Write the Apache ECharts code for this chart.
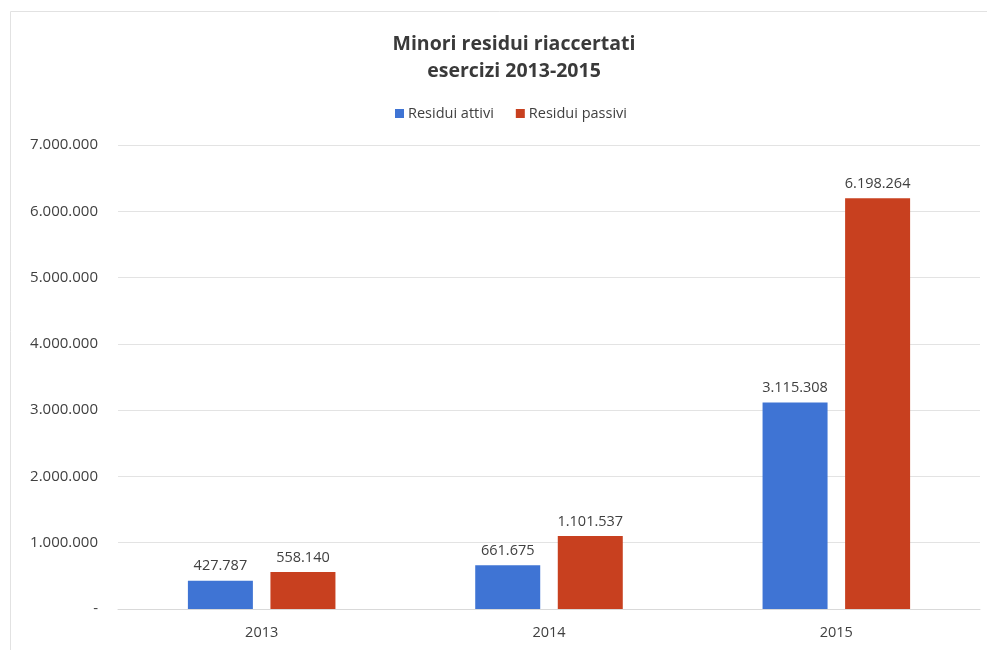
<!DOCTYPE html>
<html>
<head>
<meta charset="utf-8">
<script src="https://cdn.jsdelivr.net/npm/echarts@6/dist/echarts.min.js"></script>
<style>
  html, body { margin: 0; padding: 0; background: #ffffff; }
  #chart { width: 987px; height: 650px; }
</style>
</head>
<body>
<div id="chart"></div>
<script>
// Esercizi e importi dei minori residui riaccertati
const years = ['2013', '2014', '2015'];
const residuiAttivi = [427787, 661675, 3115308];
const residuiPassivi = [558140, 1101537, 6198264];
const yTicks = [0, 1000000, 2000000, 3000000, 4000000, 5000000, 6000000, 7000000];

const FONT = '"Open Sans", "Liberation Sans", sans-serif';

// Formato italiano con punto come separatore delle migliaia; zero come "-"
function fmt(v) {
  if (v === 0) return '-';
  return String(Math.round(v)).replace(/\B(?=(\d{3})+(?!\d))/g, '.');
}

const chart = echarts.init(document.getElementById('chart'), null, { renderer: 'canvas' });

const valueLabel = {
  show: true, position: 'top', distance: 7,
  fontFamily: FONT, fontSize: 14.5, color: '#404040',
  formatter: p => fmt(p.value)
};

chart.setOption({
  backgroundColor: '#ffffff',
  animation: false,
  textStyle: { fontFamily: FONT },
  graphic: [{
    type: 'rect',
    shape: { x: 10.5, y: 11.5, width: 985, height: 650 },
    style: { fill: 'none', stroke: '#e2e2e2', lineWidth: 1 },
    silent: true
  }],
  title: {
    text: 'Minori residui riaccertati\nesercizi 2013-2015',
    left: 509,
    textAlign: 'center',
    top: 26,
    textStyle: {
      fontFamily: FONT,
      fontSize: 19.5,
      fontWeight: 'bold',
      color: '#3a3a3a',
      lineHeight: 27
    }
  },
  legend: {
    data: ['Residui attivi', 'Residui passivi'],
    left: 390,
    top: 101,
    itemWidth: 9,
    itemHeight: 9,
    itemGap: 22,
    icon: 'rect',
    textStyle: { fontFamily: FONT, fontSize: 14.5, color: '#404040', padding: [0, 0, 0, -1] }
  },
  grid: { left: 118, right: 7, top: 145, bottom: 41, containLabel: false },
  xAxis: {
    type: 'category',
    data: years,
    axisLine: { lineStyle: { color: '#d9d9d9', width: 1 } },
    axisTick: { show: false },
    axisLabel: { fontFamily: FONT, fontSize: 14.5, color: '#404040', margin: 16 }
  },
  yAxis: {
    type: 'value',
    min: yTicks[0],
    max: yTicks[yTicks.length - 1],
    interval: yTicks[1] - yTicks[0],
    axisLine: { show: false },
    axisTick: { show: false },
    splitLine: { lineStyle: { color: '#e3e3e3', width: 1 } },
    axisLabel: {
      fontFamily: FONT, fontSize: 15, color: '#404040', margin: 20,
      formatter: fmt
    }
  },
  series: [
    {
      name: 'Residui attivi',
      type: 'bar',
      data: residuiAttivi,
      barWidth: 65,
      barGap: '27%',
      itemStyle: { color: '#3f74d4' },
      label: valueLabel
    },
    {
      name: 'Residui passivi',
      type: 'bar',
      data: residuiPassivi,
      barWidth: 65,
      itemStyle: { color: '#c8401f' },
      label: valueLabel
    }
  ]
});
</script>
</body>
</html>
